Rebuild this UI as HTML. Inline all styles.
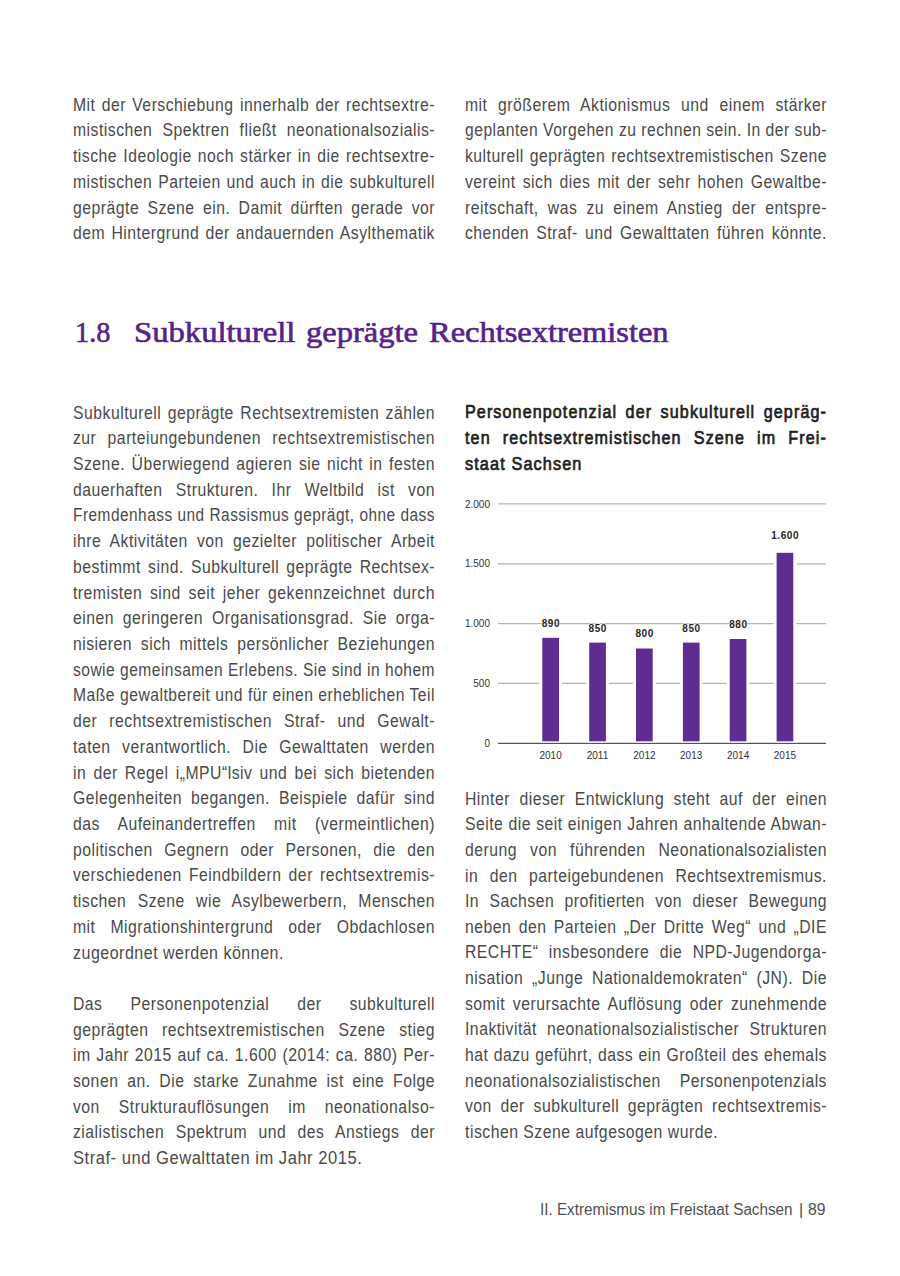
<!DOCTYPE html>
<html><head><meta charset="utf-8"><style>
html,body{margin:0;padding:0;background:#fff;}
body{width:900px;height:1276px;position:relative;overflow:hidden;}
.ln{position:absolute;white-space:nowrap;line-height:26px;height:26px;transform-origin:0 0;}
.j{text-align:justify;text-align-last:justify;}
.b{font-family:'Liberation Sans',sans-serif;font-size:17.5px;letter-spacing:0.55px;color:#4a4a4a;}
.t{font-family:'Liberation Sans',sans-serif;font-size:17.5px;font-weight:400;-webkit-text-stroke:0.7px #1f1f1f;letter-spacing:1.2px;color:#1f1f1f;}
.h{position:absolute;font-family:"Liberation Serif",serif;font-size:30px;line-height:40px;height:40px;color:#55238a;-webkit-text-stroke:0.65px #55238a;white-space:nowrap;transform-origin:0 0;}
.f{position:absolute;font-family:"Liberation Sans",sans-serif;font-size:16px;line-height:22px;height:22px;color:#505050;white-space:nowrap;transform-origin:0 0;}
</style></head><body>
<div class="b ln j" style="left:73px;top:91.70px;width:402.22px;transform:scaleX(0.9000)">Mit der Verschiebung innerhalb der rechtsextre-</div>
<div class="b ln j" style="left:73px;top:117.40px;width:402.22px;transform:scaleX(0.9000)">mistischen Spektren fließt neonationalsozialis-</div>
<div class="b ln j" style="left:73px;top:143.10px;width:402.22px;transform:scaleX(0.9000)">tische Ideologie noch stärker in die rechtsextre-</div>
<div class="b ln j" style="left:73px;top:168.80px;width:402.22px;transform:scaleX(0.9000)">mistischen Parteien und auch in die subkulturell</div>
<div class="b ln j" style="left:73px;top:194.50px;width:402.22px;transform:scaleX(0.9000)">geprägte Szene ein. Damit dürften gerade vor</div>
<div class="b ln j" style="left:73px;top:220.20px;width:402.22px;transform:scaleX(0.9000)">dem Hintergrund der andauernden Asylthematik</div>
<div class="b ln j" style="left:465px;top:91.70px;width:402.22px;transform:scaleX(0.9000)">mit größerem Aktionismus und einem stärker</div>
<div class="b ln j" style="left:465px;top:117.40px;width:404.83px;transform:scaleX(0.8942)">geplanten Vorgehen zu rechnen sein. In der sub-</div>
<div class="b ln j" style="left:465px;top:143.10px;width:402.22px;transform:scaleX(0.9000)">kulturell geprägten rechtsextremistischen Szene</div>
<div class="b ln j" style="left:465px;top:168.80px;width:402.22px;transform:scaleX(0.9000)">vereint sich dies mit der sehr hohen Gewaltbe-</div>
<div class="b ln j" style="left:465px;top:194.50px;width:402.22px;transform:scaleX(0.9000)">reitschaft, was zu einem Anstieg der entspre-</div>
<div class="b ln j" style="left:465px;top:220.20px;width:402.22px;transform:scaleX(0.9000)">chenden Straf- und Gewalttaten führen könnte.</div>
<div class="h" style="left:75.11px;top:312px;transform:scaleX(0.9429)">1.8</div>
<div class="h" style="left:133.91px;top:312px;transform:scaleX(1.0884)">Subkulturell</div>
<div class="h" style="left:305.62px;top:312px;transform:scaleX(1.0843)">geprägte</div>
<div class="h" style="left:429.00px;top:312px;transform:scaleX(1.0811)">Rechtsextremisten</div>
<div class="b ln j" style="left:73px;top:399.60px;width:402.22px;transform:scaleX(0.9000)">Subkulturell geprägte Rechtsextremisten zählen</div>
<div class="b ln j" style="left:73px;top:425.31px;width:402.22px;transform:scaleX(0.9000)">zur parteiungebundenen rechtsextremistischen</div>
<div class="b ln j" style="left:73px;top:451.02px;width:402.22px;transform:scaleX(0.9000)">Szene. Überwiegend agieren sie nicht in festen</div>
<div class="b ln j" style="left:73px;top:476.73px;width:402.22px;transform:scaleX(0.9000)">dauerhaften Strukturen. Ihr Weltbild ist von</div>
<div class="b ln j" style="left:73px;top:502.44px;width:410.89px;transform:scaleX(0.8810)">Fremdenhass und Rassismus geprägt, ohne dass</div>
<div class="b ln j" style="left:73px;top:528.15px;width:402.22px;transform:scaleX(0.9000)">ihre Aktivitäten von gezielter politischer Arbeit</div>
<div class="b ln j" style="left:73px;top:553.86px;width:402.22px;transform:scaleX(0.9000)">bestimmt sind. Subkulturell geprägte Rechtsex-</div>
<div class="b ln j" style="left:73px;top:579.57px;width:402.22px;transform:scaleX(0.9000)">tremisten sind seit jeher gekennzeichnet durch</div>
<div class="b ln j" style="left:73px;top:605.28px;width:402.22px;transform:scaleX(0.9000)">einen geringeren Organisationsgrad. Sie orga-</div>
<div class="b ln j" style="left:73px;top:630.99px;width:402.22px;transform:scaleX(0.9000)">nisieren sich mittels persönlicher Beziehungen</div>
<div class="b ln j" style="left:73px;top:656.70px;width:407.55px;transform:scaleX(0.8882)">sowie gemeinsamen Erlebens. Sie sind in hohem</div>
<div class="b ln j" style="left:73px;top:682.41px;width:404.03px;transform:scaleX(0.8960)">Maße gewaltbereit und für einen erheblichen Teil</div>
<div class="b ln j" style="left:73px;top:708.12px;width:402.22px;transform:scaleX(0.9000)">der rechtsextremistischen Straf- und Gewalt-</div>
<div class="b ln j" style="left:73px;top:733.83px;width:402.22px;transform:scaleX(0.9000)">taten verantwortlich. Die Gewalttaten werden</div>
<div class="b ln j" style="left:73px;top:759.54px;width:402.22px;transform:scaleX(0.9000)">in der Regel i„MPU“lsiv und bei sich bietenden</div>
<div class="b ln j" style="left:73px;top:785.25px;width:402.22px;transform:scaleX(0.9000)">Gelegenheiten begangen. Beispiele dafür sind</div>
<div class="b ln j" style="left:73px;top:810.96px;width:402.22px;transform:scaleX(0.9000)">das Aufeinandertreffen mit (vermeintlichen)</div>
<div class="b ln j" style="left:73px;top:836.67px;width:402.22px;transform:scaleX(0.9000)">politischen Gegnern oder Personen, die den</div>
<div class="b ln j" style="left:73px;top:862.38px;width:402.22px;transform:scaleX(0.9000)">verschiedenen Feindbildern der rechtsextremis-</div>
<div class="b ln j" style="left:73px;top:888.09px;width:402.22px;transform:scaleX(0.9000)">tischen Szene wie Asylbewerbern, Menschen</div>
<div class="b ln j" style="left:73px;top:913.80px;width:402.22px;transform:scaleX(0.9000)">mit Migrationshintergrund oder Obdachlosen</div>
<div class="b ln" style="left:73px;top:939.51px;transform:scaleX(0.9141)">zugeordnet werden können.</div>
<div class="b ln j" style="left:73px;top:990.93px;width:402.22px;transform:scaleX(0.9000)">Das Personenpotenzial der subkulturell</div>
<div class="b ln j" style="left:73px;top:1016.64px;width:402.22px;transform:scaleX(0.9000)">geprägten rechtsextremistischen Szene stieg</div>
<div class="b ln j" style="left:73px;top:1042.35px;width:402.22px;transform:scaleX(0.9000)">im Jahr 2015 auf ca. 1.600 (2014: ca. 880) Per-</div>
<div class="b ln j" style="left:73px;top:1068.06px;width:402.22px;transform:scaleX(0.9000)">sonen an. Die starke Zunahme ist eine Folge</div>
<div class="b ln j" style="left:73px;top:1093.77px;width:402.22px;transform:scaleX(0.9000)">von Strukturauflösungen im neonationalso-</div>
<div class="b ln j" style="left:73px;top:1119.48px;width:402.22px;transform:scaleX(0.9000)">zialistischen Spektrum und des Anstiegs der</div>
<div class="b ln" style="left:73px;top:1145.19px;transform:scaleX(0.9461)">Straf- und Gewalttaten im Jahr 2015.</div>
<div class="t ln j" style="left:465px;top:399.40px;width:393.48px;transform:scaleX(0.9200)">Personenpotenzial der subkulturell gepräg-</div>
<div class="t ln j" style="left:465px;top:425.15px;width:393.48px;transform:scaleX(0.9200)">ten rechtsextremistischen Szene im Frei-</div>
<div class="t ln" style="left:465px;top:450.90px;transform:scaleX(0.9287)">staat Sachsen</div>
<svg style="position:absolute;left:0;top:0" width="900" height="1276">
<text x="490" y="746.9" text-anchor="end" font-family="Liberation Sans" font-size="10" fill="#333">0</text>
<line x1="498" x2="826" y1="683.4" y2="683.4" stroke="#b4b4b4" stroke-width="1.3"/>
<text x="490" y="687.0" text-anchor="end" font-family="Liberation Sans" font-size="10" fill="#333">500</text>
<line x1="498" x2="826" y1="623.6" y2="623.6" stroke="#b4b4b4" stroke-width="1.3"/>
<text x="490" y="627.2" text-anchor="end" font-family="Liberation Sans" font-size="10" fill="#333">1.000</text>
<line x1="498" x2="826" y1="563.8" y2="563.8" stroke="#b4b4b4" stroke-width="1.3"/>
<text x="490" y="567.4" text-anchor="end" font-family="Liberation Sans" font-size="10" fill="#333">1.500</text>
<line x1="498" x2="826" y1="503.9" y2="503.9" stroke="#b4b4b4" stroke-width="1.3"/>
<text x="490" y="507.5" text-anchor="end" font-family="Liberation Sans" font-size="10" fill="#333">2.000</text>
<line x1="498" x2="826" y1="743.3" y2="743.3" stroke="#555" stroke-width="1.3"/>
<rect x="539.3" y="637.8" width="22.7" height="104.5" fill="#fff"/>
<rect x="542.3" y="637.8" width="16.7" height="103.5" fill="#5f2d91"/>
<text x="550.9" y="626.8" text-anchor="middle" font-family="Liberation Sans" font-weight="bold" font-size="10" letter-spacing="0.6" fill="#262626" stroke="#fff" stroke-width="1.2" paint-order="stroke">890</text>
<text x="550.6" y="759.3" text-anchor="middle" font-family="Liberation Sans" font-size="10" fill="#333">2010</text>
<rect x="586.2" y="642.6" width="22.7" height="99.7" fill="#fff"/>
<rect x="589.2" y="642.6" width="16.7" height="98.7" fill="#5f2d91"/>
<text x="597.8" y="631.9" text-anchor="middle" font-family="Liberation Sans" font-weight="bold" font-size="10" letter-spacing="0.6" fill="#262626" stroke="#fff" stroke-width="1.2" paint-order="stroke">850</text>
<text x="597.5" y="759.3" text-anchor="middle" font-family="Liberation Sans" font-size="10" fill="#333">2011</text>
<rect x="633.0" y="648.5" width="22.7" height="93.8" fill="#fff"/>
<rect x="636.0" y="648.5" width="16.7" height="92.8" fill="#5f2d91"/>
<text x="644.7" y="637.4" text-anchor="middle" font-family="Liberation Sans" font-weight="bold" font-size="10" letter-spacing="0.6" fill="#262626" stroke="#fff" stroke-width="1.2" paint-order="stroke">800</text>
<text x="644.4" y="759.3" text-anchor="middle" font-family="Liberation Sans" font-size="10" fill="#333">2012</text>
<rect x="679.9" y="642.6" width="22.7" height="99.7" fill="#fff"/>
<rect x="682.9" y="642.6" width="16.7" height="98.7" fill="#5f2d91"/>
<text x="691.5" y="631.9" text-anchor="middle" font-family="Liberation Sans" font-weight="bold" font-size="10" letter-spacing="0.6" fill="#262626" stroke="#fff" stroke-width="1.2" paint-order="stroke">850</text>
<text x="691.2" y="759.3" text-anchor="middle" font-family="Liberation Sans" font-size="10" fill="#333">2013</text>
<rect x="726.7" y="639.0" width="22.7" height="103.3" fill="#fff"/>
<rect x="729.7" y="639.0" width="16.7" height="102.3" fill="#5f2d91"/>
<text x="738.4" y="627.9" text-anchor="middle" font-family="Liberation Sans" font-weight="bold" font-size="10" letter-spacing="0.6" fill="#262626" stroke="#fff" stroke-width="1.2" paint-order="stroke">880</text>
<text x="738.1" y="759.3" text-anchor="middle" font-family="Liberation Sans" font-size="10" fill="#333">2014</text>
<rect x="773.6" y="552.8" width="22.7" height="189.5" fill="#fff"/>
<rect x="776.6" y="552.8" width="16.7" height="188.5" fill="#5f2d91"/>
<text x="785.2" y="538.5" text-anchor="middle" font-family="Liberation Sans" font-weight="bold" font-size="10" letter-spacing="0.6" fill="#262626" stroke="#fff" stroke-width="1.2" paint-order="stroke">1.600</text>
<text x="784.9" y="759.3" text-anchor="middle" font-family="Liberation Sans" font-size="10" fill="#333">2015</text>
</svg>
<div class="b ln j" style="left:465px;top:785.70px;width:402.22px;transform:scaleX(0.9000)">Hinter dieser Entwicklung steht auf der einen</div>
<div class="b ln j" style="left:465px;top:811.33px;width:402.22px;transform:scaleX(0.9000)">Seite die seit einigen Jahren anhaltende Abwan-</div>
<div class="b ln j" style="left:465px;top:836.96px;width:402.22px;transform:scaleX(0.9000)">derung von führenden Neonationalsozialisten</div>
<div class="b ln j" style="left:465px;top:862.59px;width:402.22px;transform:scaleX(0.9000)">in den parteigebundenen Rechtsextremismus.</div>
<div class="b ln j" style="left:465px;top:888.22px;width:402.22px;transform:scaleX(0.9000)">In Sachsen profitierten von dieser Bewegung</div>
<div class="b ln j" style="left:465px;top:913.85px;width:402.22px;transform:scaleX(0.9000)">neben den Parteien „Der Dritte Weg“ und „DIE</div>
<div class="b ln j" style="left:465px;top:939.48px;width:402.22px;transform:scaleX(0.9000)">RECHTE“ insbesondere die NPD-Jugendorga-</div>
<div class="b ln j" style="left:465px;top:965.11px;width:402.22px;transform:scaleX(0.9000)">nisation „Junge Nationaldemokraten“ (JN). Die</div>
<div class="b ln j" style="left:465px;top:990.74px;width:402.22px;transform:scaleX(0.9000)">somit verursachte Auflösung oder zunehmende</div>
<div class="b ln j" style="left:465px;top:1016.37px;width:402.22px;transform:scaleX(0.9000)">Inaktivität neonationalsozialistischer Strukturen</div>
<div class="b ln j" style="left:465px;top:1042.00px;width:402.22px;transform:scaleX(0.9000)">hat dazu geführt, dass ein Großteil des ehemals</div>
<div class="b ln j" style="left:465px;top:1067.63px;width:402.22px;transform:scaleX(0.9000)">neonationalsozialistischen Personenpotenzials</div>
<div class="b ln j" style="left:465px;top:1093.26px;width:402.22px;transform:scaleX(0.9000)">von der subkulturell geprägten rechtsextremis-</div>
<div class="b ln" style="left:465px;top:1118.89px;transform:scaleX(0.9016)">tischen Szene aufgesogen wurde.</div>
<div class="f" style="left:540.05px;top:1199px;transform:scaleX(0.9532)">II. Extremismus im Freistaat Sachsen</div>
<div class="f" style="left:799.00px;top:1199px;transform:scaleX(1.0000)">|</div>
<div class="f" style="left:808.32px;top:1199px;transform:scaleX(0.9813)">89</div>
</body></html>
